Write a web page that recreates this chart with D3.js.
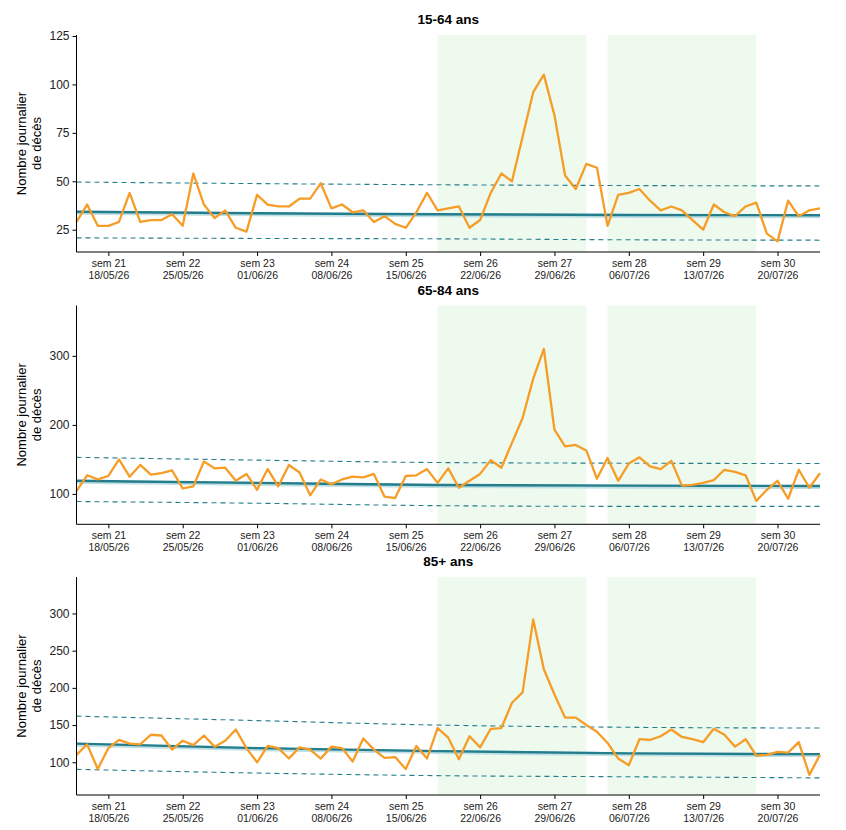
<!DOCTYPE html>
<html>
<head>
<meta charset="utf-8">
<script src="https://d3js.org/d3.v7.min.js"></script>
<style>
  body { margin: 0; background: #fff; }
  svg text { font-family: "Liberation Sans", Arial, Helvetica, sans-serif; }
  .panel-title { font-size: 13.5px; font-weight: bold; text-anchor: middle; }
  .ytitle { font-size: 13px; text-anchor: middle; }
  .axis text { font-size: 12px; fill: #222; }
  .xaxis text { font-size: 10.5px; }
  .axis path, .axis line { stroke: #000; }
</style>
</head>
<body>
<svg id="chart"></svg>
<script>
// first day of the series, one value per day
var startDay = "2026-05-15";

// deaths per day, by age group
var deaths1564 = [29,38,27,27,29,44,29,30,30,33,27,54,38,31,35,26,24,43,38,37,37,41,41,49,36,38,34,35,29,32,28,26,34,44,
                  35,36,37,26,30,44,54,50,73,96,105,84,53,46,59,57,27,43,44,46,40,35,37,35,30,25,38,34,32,37,39,23,19,40,32,35,36];
var deaths6584 = [104,127,121,126,150,125,142,128,130,134,108,111,147,137,138,119,129,106,136,111,142,131,98,121,114,121,125,124,129,96,94,126,127,136,
                  116,137,109,119,129,149,138,174,210,267,310,193,169,171,163,122,152,119,144,153,140,136,148,112,113,116,120,135,132,127,90,106,119,93,135,109,130];
var deaths85 = [110,124,91,119,130,125,124,137,136,117,129,123,136,121,129,144,119,100,122,119,105,120,117,105,121,119,101,132,117,106,107,91,122,105,
                146,133,104,135,120,145,146,180,194,292,225,191,160,160,150,141,126,105,96,131,130,135,144,134,131,127,145,137,121,131,109,110,114,113,127,83,110];

// baseline (expected) and its bounds, read at a few days
var baseDays = [0, 17, 34, 52, 70];
var base1564 = [34.3, 33.5, 33.0, 32.6, 32.5];
var upper1564 = [49.6, 48.8, 48.2, 47.8, 47.6];
var lower1564 = [20.8, 20.5, 20.3, 19.8, 19.6];
var base6584 = [119, 116, 113, 112, 111.5];
var upper6584 = [153, 149, 145.5, 144.5, 144];
var lower6584 = [89, 86.5, 83, 82, 82];
var base85 = [125, 119, 115, 112, 111];
var upper85 = [162, 156, 150, 147, 146];
var lower85 = [90.5, 85.5, 82, 80.5, 79];

// heat wave periods (first day, last day)
var periods = [["2026-06-18", "2026-07-02"], ["2026-07-04", "2026-07-18"]];

// x ticks
var tickDates = ["2026-05-18","2026-05-25","2026-06-01","2026-06-08","2026-06-15","2026-06-22","2026-06-29","2026-07-06","2026-07-13","2026-07-20"];
var tickWeeks = ["sem 21","sem 22","sem 23","sem 24","sem 25","sem 26","sem 27","sem 28","sem 29","sem 30"];

var panelTitles = ["15-64 ans", "65-84 ans", "85+ ans"];
var yTicks = [[25,50,75,100,125], [100,200,300], [100,150,200,250,300]];
var yDomains = [[13.5,125.5], [56,373], [56,349]];

var W = 846, H = 830;
var parse = d3.timeParse("%Y-%m-%d");
var fmt = d3.timeFormat("%d/%m/%y");
var t0 = parse(startDay);
var xLeft = 76.5, xRight = 820;
var panelTops = [35, 305.5, 577];
var panelBottoms = [252, 524.3, 795];

var colOrange = "#F59D26", colTeal = "#237D8C", colHalo = "#BFE0E5", colGreen = "#EFFAEF";

var svg = d3.select("#chart").attr("width", W).attr("height", H);

var x = d3.scaleTime()
  .domain([t0, d3.timeDay.offset(t0, deaths1564.length - 1)])
  .range([xLeft, xRight]);

var series = [deaths1564, deaths6584, deaths85];
var bases = [[base1564, upper1564, lower1564], [base6584, upper6584, lower6584], [base85, upper85, lower85]];

series.forEach(function(vals, p) {
  var top = panelTops[p], bottom = panelBottoms[p];
  var y = d3.scaleLinear().domain(yDomains[p]).range([bottom, top]);
  var g = svg.append("g");

  // heat wave background
  g.selectAll("rect.period")
    .data(periods)
    .enter().append("rect")
    .attr("class", "period")
    .attr("x", function(d) { return x(parse(d[0])); })
    .attr("width", function(d) { return x(parse(d[1])) - x(parse(d[0])); })
    .attr("y", top)
    .attr("height", bottom - top)
    .attr("fill", colGreen);

  var bLine = d3.line()
    .x(function(d, i) { return x(d3.timeDay.offset(t0, baseDays[i])); })
    .y(function(d) { return y(d); })
    .curve(d3.curveMonotoneX);

  // bounds
  [bases[p][1], bases[p][2]].forEach(function(b) {
    g.append("path")
      .attr("d", bLine(b))
      .attr("fill", "none")
      .attr("stroke", colTeal)
      .attr("stroke-width", 1.1)
      .attr("stroke-dasharray", "5,4");
  });

  // baseline with light halo
  g.append("path")
    .attr("d", bLine(bases[p][0]))
    .attr("fill", "none")
    .attr("stroke", colHalo)
    .attr("stroke-width", 4)
    .attr("transform", "translate(0,1)");
  g.append("path")
    .attr("d", bLine(bases[p][0]))
    .attr("fill", "none")
    .attr("stroke", colTeal)
    .attr("stroke-width", 2.4);

  // observed deaths
  var obsLine = d3.line()
    .x(function(d, i) { return x(d3.timeDay.offset(t0, i)); })
    .y(function(d) { return y(d); });
  g.append("path")
    .attr("d", obsLine(vals))
    .attr("fill", "none")
    .attr("stroke", colOrange)
    .attr("stroke-width", 2.3)
    .attr("stroke-linejoin", "round");

  // axes
  var yAxis = d3.axisLeft(y).tickValues(yTicks[p]).tickSize(4).tickPadding(3);
  var ya = g.append("g").attr("class", "axis")
    .attr("transform", "translate(" + xLeft + ",0)")
    .call(yAxis);
  ya.select(".domain").attr("d", "M0," + top + "V" + bottom);

  var xAxis = d3.axisBottom(x)
    .tickValues(tickDates.map(parse))
    .tickSize(4)
    .tickFormat("");
  var xa = g.append("g").attr("class", "axis xaxis")
    .attr("transform", "translate(0," + bottom + ")")
    .call(xAxis);
  xa.select(".domain").attr("d", "M" + xLeft + ",0H" + xRight);
  xa.selectAll(".tick").each(function(d, i) {
    var t = d3.select(this).append("text").attr("fill", "#222").attr("text-anchor", "middle");
    t.append("tspan").attr("x", 0).attr("y", 15).text(tickWeeks[i]);
    t.append("tspan").attr("x", 0).attr("y", 27).text(fmt(d));
  });

  // titles
  svg.append("text").attr("class", "panel-title")
    .attr("x", (xLeft + xRight) / 2)
    .attr("y", top - 11)
    .text(panelTitles[p]);

  var yt = svg.append("text").attr("class", "ytitle")
    .attr("transform", "translate(31," + ((top + bottom) / 2) + ") rotate(-90)");
  yt.append("tspan").attr("x", 0).attr("y", -5).text("Nombre journalier");
  yt.append("tspan").attr("x", 0).attr("y", 10).text("de décès");
});
</script>
</body>
</html>
